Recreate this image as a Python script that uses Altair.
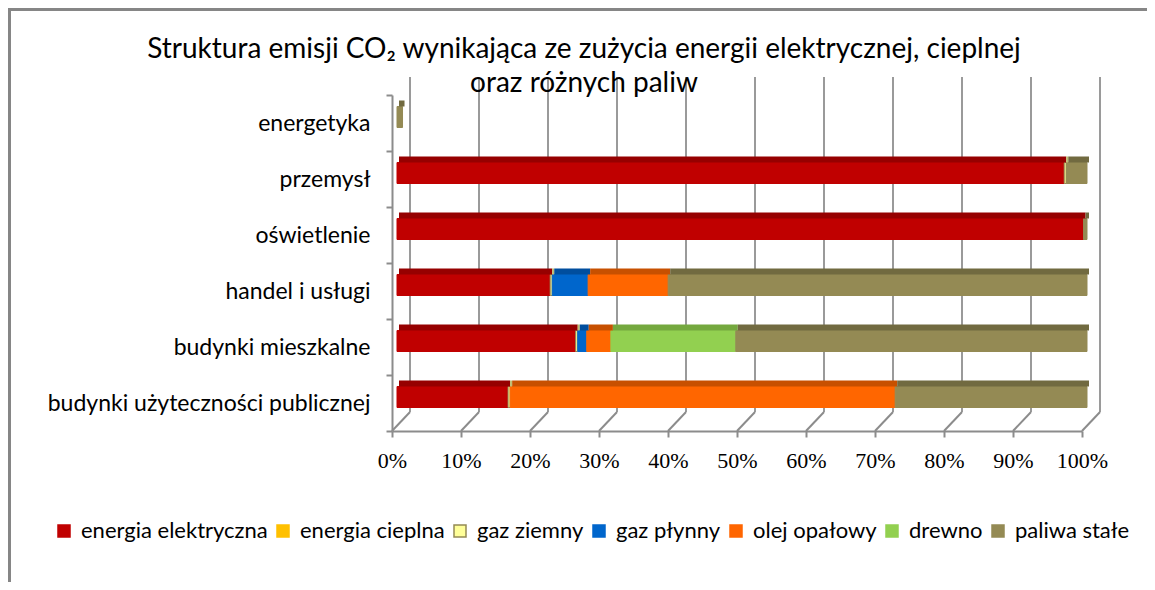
import altair as alt
import pandas as pd

categories = ["energetyka", "przemysł", "oświetlenie", "handel i usługi",
              "budynki mieszkalne", "budynki użyteczności publicznej"]
series = ["energia elektryczna", "energia cieplna", "gaz ziemny", "gaz płynny",
          "olej opałowy", "drewno", "paliwa stałe"]

energia_elektryczna = [0, 96.7, 99.5, 22.2, 25.9, 16.1]
energia_cieplna = [0, 0, 0, 0, 0, 0]
gaz_ziemny = [0, 0.3, 0, 0.3, 0.3, 0.3]
gaz_plynny = [0, 0, 0, 5.2, 1.3, 0]
olej_opalowy = [0, 0, 0, 11.6, 3.5, 55.8]
drewno = [0, 0, 0, 0, 18.1, 0]
paliwa_stale = [0.8, 3.0, 0.5, 60.7, 50.9, 27.8]

tick_values = [0, 10, 20, 30, 40, 50, 60, 70, 80, 90, 100]

fill_colors = ["#C00000", "#FFC000", "#FFFF99", "#0066CC", "#FF6600", "#92D050", "#948A54"]
stroke_colors = ["#C00000", "#FFC000", "#948A54", "#0066CC", "#FF6600", "#92D050", "#948A54"]
top_colors = ["#960000", "#CC9900", "#BDBD70", "#004E9E", "#C75000", "#74A83E", "#716A40"]

all_series = [energia_elektryczna, energia_cieplna, gaz_ziemny, gaz_plynny,
              olej_opalowy, drewno, paliwa_stale]
rows = []
for si, (name, vals) in enumerate(zip(series, all_series)):
    for cat, v in zip(categories, vals):
        if v > 0:
            rows.append({"kategoria": cat, "paliwo": name, "udzial": v, "idx": si})
df = pd.DataFrame(rows)
ticks_df = pd.DataFrame({"t": tick_values})

W, H = 690, 336
PAD_L, PAD_T = 384, 87
GRID = "#8C8C8C"
GRID_BACK = "#9A9A9A"

xscale = alt.Scale(domain=[0, 100], nice=False, zero=True)
yscale = alt.Scale(domain=categories, paddingInner=0, paddingOuter=0)
x_axis = alt.Axis(values=tick_values, labelExpr="datum.value + '%'",
                  grid=False, domainColor=GRID, domainWidth=2,
                  tickColor=GRID, tickWidth=2, tickSize=6, labelFlush=False,
                  labelFont="Liberation Serif", labelFontSize=22,
                  labelColor="#000000", labelPadding=13)
y_axis = alt.Axis(tickBand="extent", domainColor=GRID, domainWidth=2,
                  tickColor=GRID, tickWidth=2, tickSize=6,
                  labelFont="Lato", labelFontSize=23, labelColor="#000000",
                  labelPadding=16, labelLimit=400)

grid = alt.Chart(ticks_df).mark_rule(color=GRID_BACK, strokeWidth=2, xOffset=18).encode(
    x=alt.X("t:Q", scale=xscale, axis=x_axis, title=None),
    y=alt.value(-18), y2=alt.value(H - 19),
)
floor = alt.Chart(ticks_df).mark_rule(color=GRID, strokeWidth=2, x2Offset=18).encode(
    x=alt.X("t:Q", scale=xscale, axis=x_axis, title=None), x2="t:Q",
    y=alt.value(H), y2=alt.value(H - 19),
)

bars = alt.Chart(df).mark_bar(size=21, yOffset=-6, xOffset=5, strokeWidth=1).encode(
    x=alt.X("udzial:Q", stack="zero", scale=xscale, axis=x_axis, title=None),
    y=alt.Y("kategoria:N", scale=yscale, sort=categories, axis=y_axis, title=None),
    fill=alt.Fill("paliwo:N", scale=alt.Scale(domain=series, range=fill_colors),
                  title=None),
    stroke=alt.Stroke("paliwo:N", scale=alt.Scale(domain=series, range=stroke_colors),
                      title=None),
    order=alt.Order("idx:Q"),
)
tops = alt.Chart(df).mark_bar(size=6, yOffset=-19.5, xOffset=7).encode(
    x=alt.X("udzial:Q", stack="zero", scale=xscale, axis=x_axis, title=None),
    y=alt.Y("kategoria:N", scale=yscale, sort=categories, axis=y_axis, title=None),
    color=alt.Color("paliwo:N", scale=alt.Scale(domain=series, range=top_colors),
                    legend=None),
    order=alt.Order("idx:Q"),
)

one = pd.DataFrame({"a": [0]})
frame_left = alt.Chart(one).mark_rule(color="#868686", strokeWidth=3).encode(
    x=alt.value(-PAD_L + 1.5), y=alt.value(-PAD_T + 1), y2=alt.value(H + 160))
frame_top = alt.Chart(one).mark_rule(color="#868686", strokeWidth=3).encode(
    x=alt.value(-PAD_L), x2=alt.value(W + 80), y=alt.value(-PAD_T + 1.5))

chart = alt.layer(frame_left, frame_top, grid, floor, bars, tops).resolve_scale(
    color="independent"
).properties(
    width=W, height=H,
    title=alt.TitleParams(
        text=["Struktura emisji CO₂ wynikająca ze zużycia energii elektrycznej, cieplnej",
              "oraz różnych paliw"],
        anchor="start", align="center", frame="group", dx=192, dy=94,
        font="Lato", fontSize=28, fontWeight="normal", color="#000000",
        lineHeight=34, offset=4),
    autosize=alt.AutoSizeParams(type="none"),
    padding={"left": PAD_L, "top": PAD_T, "right": 1155 - 16 - PAD_L - W, "bottom": 590 - 16 - PAD_T - H},
).configure_view(stroke=None).configure_legend(
    orient="none", legendX=-339, legendY=425, direction="horizontal", columns=7,
    symbolType="square", symbolSize=144, symbolStrokeWidth=1.5,
    labelFont="Lato", labelFontSize=22, labelColor="#000000", labelLimit=400,
    labelOffset=6, columnPadding=4,
)

chart.save("out.html", embed_options={"renderer": "svg", "actions": False})
